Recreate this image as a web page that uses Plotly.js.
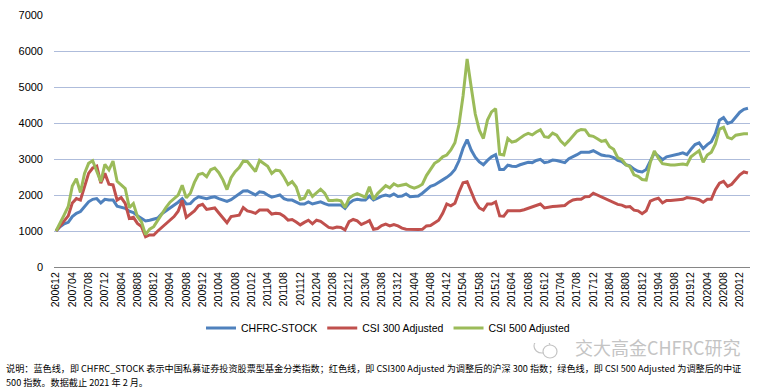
<!DOCTYPE html>
<html>
<head>
<meta charset="utf-8">
<script src="https://cdn.plot.ly/plotly-3.0.1.min.js"></script>
<style>html,body{margin:0;padding:0;background:#fff;}#chart{width:771px;height:391px;}</style>
</head>
<body>
<div id="chart"></div>
<script>
const months = [
 "200612",
 "200701","200702","200703","200704","200705","200706","200707","200708","200709","200710","200711","200712",
 "200801","200802","200803","200804","200805","200806","200807","200808","200809","200810","200811","200812",
 "200901","200902","200903","200904","200905","200906","200907","200908","200909","200910","200911","200912",
 "201001","201002","201003","201004","201005","201006","201007","201008","201009","201010","201011","201012",
 "201101","201102","201103","201104","201105","201106","201107","201108","201109","201110","201111","201112",
 "201201","201202","201203","201204","201205","201206","201207","201208","201209","201210","201211","201212",
 "201301","201302","201303","201304","201305","201306","201307","201308","201309","201310","201311","201312",
 "201401","201402","201403","201404","201405","201406","201407","201408","201409","201410","201411","201412",
 "201501","201502","201503","201504","201505","201506","201507","201508","201509","201510","201511","201512",
 "201601","201602","201603","201604","201605","201606","201607","201608","201609","201610","201611","201612",
 "201701","201702","201703","201704","201705","201706","201707","201708","201709","201710","201711","201712",
 "201801","201802","201803","201804","201805","201806","201807","201808","201809","201810","201811","201812",
 "201901","201902","201903","201904","201905","201906","201907","201908","201909","201910","201911","201912",
 "202001","202002","202003","202004","202005","202006","202007","202008","202009","202010","202011","202012",
 "202101","202102"
];

const tickLabels = [
 "200612","200704","200708","200712","200804","200808","200812","200904","200908","200912",
 "201004","201008","201012","201104","201108","201112","201204","201208","201212","201304",
 "201308","201312","201404","201408","201412","201504","201508","201512","201604","201608",
 "201612","201704","201708","201712","201804","201808","201812","201904","201908","201912",
 "202004","202008","202012"
];

const chfrcStock = [
 1000,
 1120,1200,1240,1400,1490,1540,1670,1810,1880,1900,1780,1880,
 1860,1860,1690,1660,1630,1550,1510,1420,1350,1280,1300,1330,
 1360,1480,1560,1630,1700,1800,1900,1750,1760,1880,1950,1930,
 1900,1930,1950,1900,1850,1820,1870,1950,2020,2110,2120,2050,
 2000,2090,2070,2000,1940,1970,2000,1900,1860,1860,1810,1750,
 1750,1810,1750,1790,1810,1760,1720,1720,1720,1720,1630,1770,
 1850,1880,1860,1860,1970,1860,1910,1970,2000,1970,2030,1960,
 1970,2030,1950,1960,1970,2050,2150,2240,2280,2340,2420,2490,
 2580,2710,2950,3300,3540,3250,3050,2920,2840,2960,3060,3120,
 2710,2710,2830,2800,2790,2840,2880,2910,2900,2960,2990,2900,
 2920,2970,2960,2940,2900,3010,3060,3120,3190,3200,3190,3230,
 3180,3110,3090,3080,3040,2960,2930,2840,2810,2720,2660,2640,
 2710,2920,3170,3080,2980,3060,3080,3100,3140,3170,3120,3270,
 3400,3450,3290,3400,3480,3700,4080,4150,3990,4030,4150,4300,
 4380,4410
];

const csi300Adj = [
 1000,
 1150,1290,1420,1780,1900,1860,2230,2600,2750,2800,2330,2600,
 2300,2280,1860,1930,1770,1350,1380,1210,1120,840,890,890,
 1000,1100,1200,1300,1400,1550,1850,1380,1460,1560,1700,1740,
 1600,1610,1640,1500,1360,1230,1400,1420,1440,1650,1560,1530,
 1490,1580,1580,1580,1470,1490,1480,1410,1300,1320,1250,1170,
 1240,1300,1200,1300,1270,1180,1100,1080,1110,1100,1030,1260,
 1320,1280,1180,1230,1290,1050,1070,1150,1190,1140,1180,1140,
 1080,1050,1040,1040,1040,1045,1140,1150,1230,1300,1490,1750,
 1700,1770,2080,2340,2370,2090,1820,1640,1580,1750,1750,1810,
 1420,1410,1560,1565,1565,1565,1590,1630,1650,1700,1750,1640,
 1670,1680,1690,1700,1710,1800,1860,1880,1880,1950,1955,2050,
 2000,1950,1890,1850,1790,1740,1720,1670,1680,1580,1560,1480,
 1560,1830,1880,1910,1780,1850,1850,1860,1880,1880,1930,1920,
 1900,1870,1800,1880,1880,2150,2330,2380,2240,2300,2430,2560,
 2640,2610
];

const csi500Adj = [
 1000,
 1250,1450,1680,2250,2450,2070,2600,2880,2950,2650,2370,2850,
 2700,2940,2380,2280,2180,1650,1760,1400,1250,900,1050,1120,
 1300,1450,1650,1800,1900,2000,2270,1920,2050,2350,2570,2600,
 2510,2700,2750,2620,2420,2150,2480,2650,2760,2940,2930,2800,
 2650,2960,2880,2800,2600,2690,2670,2500,2290,2370,2220,1880,
 1910,2140,1960,2060,2160,2050,1850,1850,1860,1840,1650,1910,
 1990,2040,1990,1940,2230,1880,2040,2150,2260,2200,2310,2250,
 2270,2300,2230,2190,2230,2300,2540,2700,2880,2950,3060,3110,
 3250,3450,3950,4750,5780,5000,4250,3800,3570,4080,4310,4400,
 3130,3110,3570,3470,3500,3580,3660,3710,3670,3750,3810,3620,
 3600,3720,3660,3500,3390,3510,3640,3770,3820,3810,3650,3630,
 3560,3490,3520,3340,3270,3040,2990,2840,2785,2560,2520,2430,
 2415,2900,3220,3020,2870,2850,2835,2835,2840,2860,2840,3060,
 3150,3230,2910,3110,3190,3420,3830,3880,3600,3560,3660,3690,
 3700,3700
];

// pixel helpers for decorative placement (plot area: x 54..750, y 15..267)
const PL = 54, PW = 696, PT = 15, PH = 252;
const px = v => (v - PL) / PW;
const py = v => (PT + PH - v) / PH;

const traces = [
 {x: months, y: chfrcStock, name: "CHFRC-STOCK", type: "scatter", mode: "lines",
  line: {color: "#4F81BD", width: 3}},
 {x: months, y: csi300Adj, name: "CSI 300 Adjusted", type: "scatter", mode: "lines",
  line: {color: "#C0504D", width: 3}},
 {x: months, y: csi500Adj, name: "CSI 500 Adjusted", type: "scatter", mode: "lines",
  line: {color: "#9BBB59", width: 3}}
];

const note1 = "说明：蓝色线，即 CHFRC_STOCK 表示中国私募证券投资股票型基金分类指数；红色线，即 CSI300 Adjusted 为调整后的沪深 300 指数；绿色线，即 CSI 500 Adjusted 为调整后的中证";
const note2 = "500 指数。数据截止 2021 年 2 月。";

const layout = {
 width: 771, height: 391,
 margin: {l: PL, r: 771 - PL - PW, t: PT, b: 391 - PT - PH, pad: 0},
 paper_bgcolor: "#ffffff", plot_bgcolor: "#ffffff",
 font: {family: "Liberation Sans, Arial, sans-serif", color: "#000000"},
 showlegend: true,
 legend: {orientation: "h", x: px(388), xanchor: "center", y: py(328), yanchor: "middle",
  font: {size: 10.5, family: "Liberation Sans, Arial, sans-serif"}, itemwidth: 30, tracegroupgap: 0},
 xaxis: {type: "category", range: [-0.5, months.length - 0.5], tickmode: "array",
  tickvals: tickLabels, ticktext: tickLabels, tickangle: -90,
  tickfont: {size: 10.5, family: "Liberation Sans, Arial, sans-serif", color: "#000"},
  showgrid: false, showline: true, linecolor: "#868686", linewidth: 1, ticks: "", zeroline: false, fixedrange: true},
 yaxis: {range: [0, 7000], dtick: 1000, tick0: 0, showgrid: true, gridcolor: "#AEBCDB", gridwidth: 1,
  zeroline: false, showline: false, ticks: "", ticklabelstandoff: 10,
  tickfont: {size: 11, family: "Liberation Sans, Arial, sans-serif", color: "#000"}, fixedrange: true},
 annotations: [
  {xref: "paper", yref: "paper", x: px(4), y: py(367.5), xanchor: "left", yanchor: "middle", showarrow: false,
   text: note1, font: {size: 9.15, family: "Noto Sans CJK SC, sans-serif", color: "#000"}},
  {xref: "paper", yref: "paper", x: px(4), y: py(381.5), xanchor: "left", yanchor: "middle", showarrow: false,
   text: note2, font: {size: 9.15, family: "Noto Sans CJK SC, sans-serif", color: "#000"}},
  {xref: "paper", yref: "paper", x: px(573), y: py(347), xanchor: "left", yanchor: "middle", showarrow: false,
   text: "交大高金CHFRC研究", font: {size: 18, family: "Noto Sans CJK SC, sans-serif", color: "#C4C4C4"}}
 ],
 shapes: [
  {type: "circle", xref: "paper", yref: "paper", x0: px(534), x1: px(550), y0: py(353), y1: py(339),
   line: {color: "#C4C4C4", width: 1.2}, fillcolor: "rgba(0,0,0,0)"},
  {type: "circle", xref: "paper", yref: "paper", x0: px(543), x1: px(557), y0: py(358), y1: py(345),
   line: {color: "#C4C4C4", width: 1.2}, fillcolor: "#ffffff"}
 ]
};

Plotly.newPlot("chart", traces, layout, {displayModeBar: false, staticPlot: true});
</script>
</body>
</html>
